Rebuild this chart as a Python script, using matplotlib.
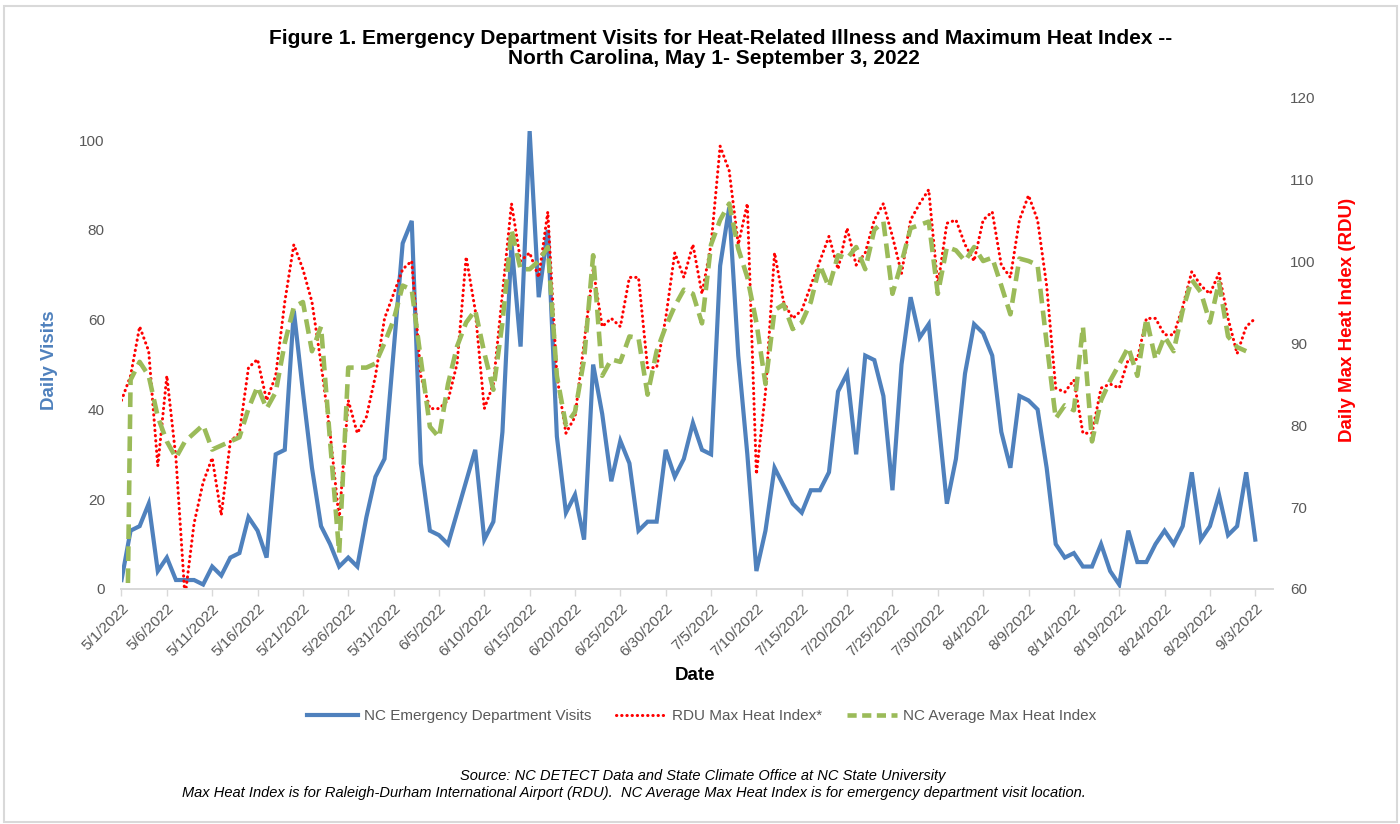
import numpy as np
import pandas as pd
import matplotlib
matplotlib.use('Agg')
import matplotlib.pyplot as plt
from matplotlib.lines import Line2D
from matplotlib.patches import Rectangle

plt.rcParams['font.family'] = ['Liberation Sans', 'DejaVu Sans']

dates = pd.date_range('2022-05-01', '2022-09-03', freq='D')

visits = [2, 13, 14, 19, 4, 7, 2, 2, 2, 1,
          5, 3, 7, 8, 16, 13, 7, 30, 31, 62,
          44, 27, 14, 10, 5, 7, 5, 16, 25, 29,
          53, 77, 82, 28, 13, 12, 10, 17, 24, 31,
          11, 15, 35, 77, 54, 102, 65, 80, 34, 17,
          21, 11, 50, 39, 24, 33, 28, 13, 15, 15,
          31, 25, 29, 37, 31, 30, 72, 85, 52, 30,
          4, 13, 27, 23, 19, 17, 22, 22, 26, 44,
          48, 30, 52, 51, 43, 22, 50, 65, 56, 59,
          39, 19, 29, 48, 59, 57, 52, 35, 27, 43,
          42, 40, 27, 10, 7, 8, 5, 5, 10, 4,
          1, 13, 6, 6, 10, 13, 10, 14, 26, 11,
          14, 21, 12, 14, 26, 11]

rdu_heat = [83, 86, 92, 89, 75, 86, 76, 59, 68, 73,
            76, 69, 78, 79, 87, 88, 83, 86, 95, 102,
            99, 95, 87.5, 79, 68.5, 83, 79, 81, 86, 93,
            96, 99, 100, 86, 82, 82, 83, 87.5, 100.5, 94,
            82, 85, 96, 107, 100, 101, 98, 106, 86, 79,
            81, 90, 99, 92, 93, 92, 98, 98, 87, 87,
            93, 101, 98, 102, 96, 102, 114, 111, 102, 107,
            74, 84, 101, 95, 93, 94, 97, 100, 103, 99,
            104, 99.5, 101, 105, 107, 103, 98.5, 105, 107, 108.7,
            97, 104.6, 105, 102, 100, 105, 106, 99.5, 98, 105,
            108, 105, 97, 84.5, 84, 85.5, 79, 79, 84.5, 85,
            84.5, 88, 88, 93, 93, 91, 91, 94.4, 98.7, 97,
            96, 98.5, 93, 88.7, 92, 93]

nc_heat = [0, 85.5, 87.7, 86, 81, 78, 76, 78, 79, 80,
           77, 77.5, 78, 78.5, 82, 84.7, 82, 84, 90, 94.4,
           95, 89, 92, 78, 64.4, 87, 87, 87, 87.5, 90,
           92.8, 97, 96.5, 88, 79.8, 78.5, 85, 89.6, 92.5, 94,
           88.8, 84.3, 92.5, 103.8, 99, 99, 100, 101.7, 86, 80,
           81.6, 88, 100.7, 86, 88, 87.7, 90.8, 90.6, 83.7, 89,
           92, 94.5, 96.5, 96, 92.4, 102, 105, 107, 101.5, 98,
           92.5, 85, 94, 94.7, 91.7, 92.5, 95, 99.5, 96.8, 100.7,
           100.3, 101.7, 99, 103.8, 104.8, 96, 99.8, 104, 104.4, 104.8,
           96, 101.7, 101.3, 100, 101.7, 100, 100.4, 97, 93.5, 100.3,
           100, 99.5, 90, 80.8, 82.4, 81.8, 92, 78, 83, 85.4,
           87.4, 89.5, 86, 93, 88, 90.8, 89, 94, 97.7, 96.2,
           92.5, 97.4, 90.8, 89.5, 89, np.nan]

tick_dates = dates[::5]
tick_labels = [f"{d.month}/{d.day}/{d.year}" for d in tick_dates]

BLUE = '#4F81BD'
RED = '#FF0000'
GREEN = '#9BBB59'
GRAY = '#595959'

W, H = 1400, 824
fig = plt.figure(figsize=(W / 100, H / 100), dpi=100)
fig.patch.set_facecolor('white')

x0, x1, y0, y1 = 121.5, 1273.4, 97, 589
ax = fig.add_axes([x0 / W, 1 - y1 / H, (x1 - x0) / W, (y1 - y0) / H])
ax2 = ax.twinx()

ax.plot(dates, visits, color=BLUE, lw=3.0, solid_joinstyle='miter')
ax2.plot(dates, rdu_heat, color=RED, lw=2.2, linestyle=(0, (0.1, 1.6)),
         dash_capstyle='round')
ax2.plot(dates, nc_heat, color=GREEN, lw=3.3, linestyle=(0, (3.2, 1.6)))

ax.set_xlim(pd.Timestamp('2022-05-01'), pd.Timestamp('2022-09-05'))
ax.set_ylim(0, 109.6)
ax2.set_ylim(60, 120)
ax.set_yticks([0, 20, 40, 60, 80, 100])
ax2.set_yticks([60, 70, 80, 90, 100, 110, 120])

ax.set_xticks(tick_dates)
ax.set_xticklabels(tick_labels, rotation=45, ha='right', rotation_mode='anchor',
                   fontsize=11, color=GRAY)
ax.tick_params(axis='x', length=5, width=1, color='#D9D9D9', pad=4)
ax.tick_params(axis='y', length=0, pad=12, labelsize=11, labelcolor=GRAY)
ax2.tick_params(axis='y', length=0, pad=12, labelsize=11, labelcolor=GRAY)

for a in (ax, ax2):
    for s in ('top', 'left', 'right'):
        a.spines[s].set_visible(False)
    a.spines['bottom'].set_color('#D9D9D9')
    a.spines['bottom'].set_linewidth(1.3)

# title, two lines
fig.text(721 / W, 1 - 38 / H,
         'Figure 1. Emergency Department Visits for Heat-Related Illness and Maximum Heat Index --',
         ha='center', va='center', fontsize=15, fontweight='bold')
fig.text(714 / W, 1 - 59 / H, 'North Carolina, May 1- September 3, 2022',
         ha='center', va='center', fontsize=15, fontweight='bold')

fig.text(50 / W, 1 - 360 / H, 'Daily Visits', rotation=90, ha='center', va='center',
         fontsize=13.5, fontweight='bold', color=BLUE)
fig.text(1347 / W, 1 - 320 / H, 'Daily Max Heat Index (RDU)', rotation=90,
         ha='center', va='center', fontsize=13.5, fontweight='bold', color=RED)
fig.text(695 / W, 1 - 676 / H, 'Date', ha='center', va='center',
         fontsize=13.5, fontweight='bold')

handles = [Line2D([], [], color=BLUE, lw=3.0),
           Line2D([], [], color=RED, lw=2.2, linestyle=(0, (0.1, 1.6)), dash_capstyle='round'),
           Line2D([], [], color=GREEN, lw=3.3, linestyle=(0, (2.0, 1.2)))]
labels = ['NC Emergency Department Visits', 'RDU Max Heat Index*', 'NC Average Max Heat Index']
leg = fig.legend(handles, labels, ncol=3, loc='center', bbox_to_anchor=(702 / W, 1 - 716 / H),
                 frameon=False, fontsize=11, handlelength=3.3, handletextpad=0.4,
                 columnspacing=1.6)
for t in leg.get_texts():
    t.set_color(GRAY)

fig.text(703 / W, 1 - 776 / H,
         'Source: NC DETECT Data and State Climate Office at NC State University',
         ha='center', va='center', fontsize=10.5, style='italic')
fig.text(634 / W, 1 - 793 / H,
         'Max Heat Index is for Raleigh-Durham International Airport (RDU).  '
         'NC Average Max Heat Index is for emergency department visit location.',
         ha='center', va='center', fontsize=10.5, style='italic')

fig.patches.append(Rectangle((4 / W, 2 / H), 1393 / W, 816 / H, transform=fig.transFigure,
                             fill=False, edgecolor='#D9D9D9', lw=1.5))

fig.savefig('out.png', dpi=100)
